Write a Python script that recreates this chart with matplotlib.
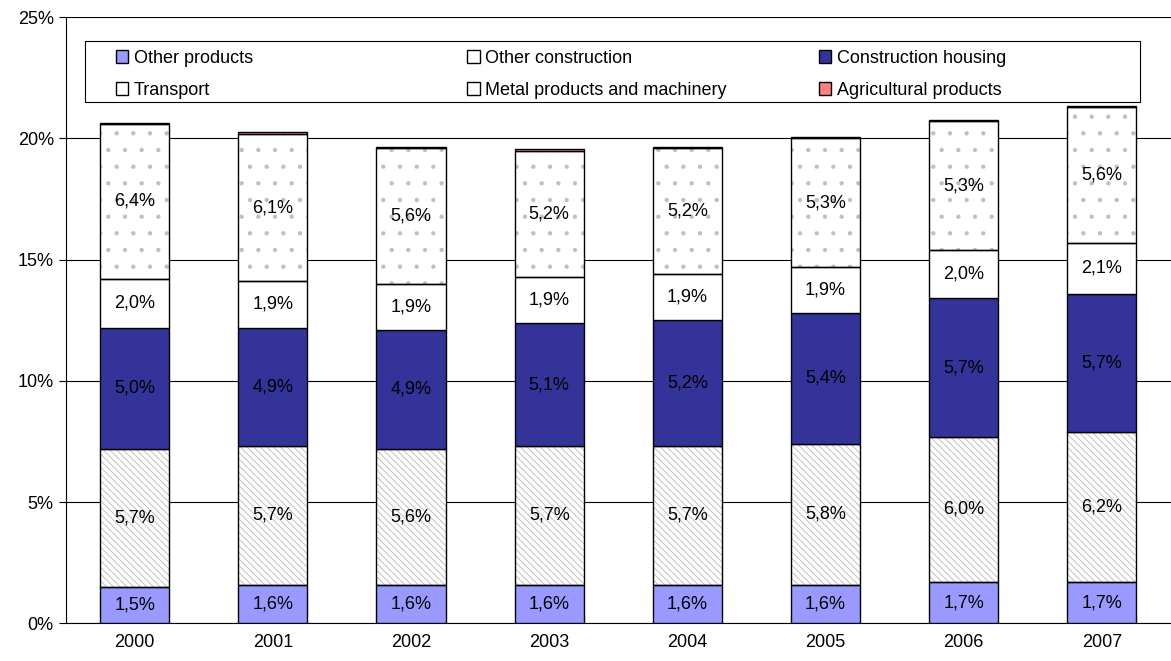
import matplotlib.pyplot as plt
from matplotlib.patches import Patch, Rectangle
from matplotlib.legend import Legend
import numpy as np

plt.rcParams['font.family'] = ['Liberation Sans', 'DejaVu Sans']
plt.rcParams['hatch.linewidth'] = 0.7

years = ['2000', '2001', '2002', '2003', '2004', '2005', '2006', '2007']
other_products = [1.5, 1.6, 1.6, 1.6, 1.6, 1.6, 1.7, 1.7]
metal = [5.7, 5.7, 5.6, 5.7, 5.7, 5.8, 6.0, 6.2]
housing = [5.0, 4.9, 4.9, 5.1, 5.2, 5.4, 5.7, 5.7]
transport = [2.0, 1.9, 1.9, 1.9, 1.9, 1.9, 2.0, 2.1]
other_constr = [6.4, 6.1, 5.6, 5.2, 5.2, 5.3, 5.3, 5.6]
agri = [0.05, 0.05, 0.05, 0.05, 0.05, 0.05, 0.05, 0.05]

fig = plt.figure(figsize=(11.71, 6.61), dpi=100)
ax = fig.add_axes([0.056, 0.057, 0.944, 0.917])
x = np.arange(len(years))
w = 0.5

series = [
    ('Other products', other_products, '#9999ff', None, 'black', True),
    ('Metal products and machinery', metal, 'white', '\\\\\\\\\\', '#c0c0c0', True),
    ('Construction housing', housing, '#333399', None, 'black', True),
    ('Transport', transport, 'white', None, 'black', True),
    ('Other construction', other_constr, 'white', '.', '#c0c0c0', True),
    ('Agricultural products', agri, '#ff8080', None, 'black', False),
]
bottom = np.zeros(len(years))
handles = {}
for name, vals, color, hatch, hcol, lab in series:
    vals = np.array(vals)
    if hatch:
        ax.bar(x, vals, w, bottom=bottom, color=color, hatch=hatch,
               edgecolor=hcol, linewidth=0, zorder=2)
        ax.bar(x, vals, w, bottom=bottom, fill=False, edgecolor='black',
               linewidth=1, zorder=3)
    else:
        ax.bar(x, vals, w, bottom=bottom, color=color, edgecolor='black',
               linewidth=1, zorder=3)
    handles[name] = Patch(facecolor=color, edgecolor='black', linewidth=1)
    if lab:
        for xi, bi, v in zip(x, bottom, vals):
            ax.text(xi, bi + v / 2, ('%.1f%%' % v).replace('.', ','),
                    ha='center', va='center', fontsize=13, zorder=4)
    bottom += vals

ax.set_ylim(0, 25)
ax.set_xlim(-0.5, len(years) - 0.5)
ax.set_yticks(range(0, 26, 5))
ax.set_yticklabels(['%d%%' % v for v in range(0, 26, 5)], fontsize=13)
ax.set_xticks(x)
ax.set_xticklabels(years, fontsize=13)
ax.yaxis.grid(True, color='black', linewidth=0.8, zorder=0)
ax.set_axisbelow(True)
for s in ['top', 'right']:
    ax.spines[s].set_visible(False)
ax.tick_params(axis='x', length=0, pad=8)
ax.tick_params(axis='y', length=5, direction='out')

# legend: frame plus three fixed-width columns
ax.add_patch(Rectangle((0.018, 0.86), 0.954, 0.1, transform=ax.transAxes,
                       facecolor='white', edgecolor='black', linewidth=0.8, zorder=5))
columns = [['Other products', 'Transport'],
           ['Other construction', 'Metal products and machinery'],
           ['Construction housing', 'Agricultural products']]
col_x = [0.038, 0.356, 0.674]
for cx, names in zip(col_x, columns):
    leg = Legend(ax, [handles[n] for n in names], names, loc='upper left',
                 bbox_to_anchor=(cx, 0.96), fontsize=13, frameon=False,
                 handlelength=0.7, handleheight=0.7, handletextpad=0.3,
                 borderpad=0.45, labelspacing=0.85, borderaxespad=0)
    leg.set_zorder(6)
    ax.add_artist(leg)

fig.savefig('out.png', dpi=100)
